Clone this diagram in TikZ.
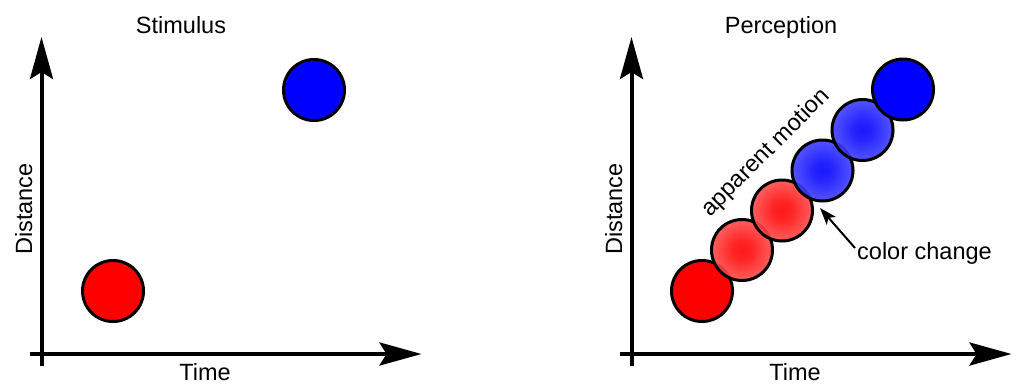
\documentclass[tikz,border=0pt]{standalone}
\usepackage{fontspec}
\setmainfont{Liberation Sans}
\usetikzlibrary{arrows.meta}
\pgfdeclareradialshading{redblurshade}{\pgfpoint{0bp}{0bp}}{%
  color(0bp)=(red); color(8bp)=(red!95!white); color(30bp)=(red!62!white); color(50bp)=(red!38!white)}
\pgfdeclareradialshading{blueblurshade}{\pgfpoint{0bp}{0bp}}{%
  color(0bp)=(blue); color(8bp)=(blue!95!white); color(30bp)=(blue!68!white); color(50bp)=(blue!45!white)}
\begin{document}
\begin{tikzpicture}[x=1pt,y=1pt,
  axis/.style={line width=4pt,-{Stealth[length=42pt,width=23pt,inset=7pt]}},
  lbl/.style={font=\fontsize{23.5}{27}\selectfont,inner sep=0pt},
  dot/.style={circle,draw=black,line width=3pt,minimum size=61pt,inner sep=0pt},
  reddot/.style={dot,fill=red},
  bluedot/.style={dot,fill=blue},
  redblur/.style={dot,shading=redblurshade,fill opacity=0.9},
  blueblur/.style={dot,shading=blueblurshade,fill opacity=0.9},
  pointer/.style={line width=2pt,-{Stealth[length=17pt,width=12pt,inset=4pt]}}
]
\useasboundingbox (0,0) rectangle (1016,-384);
% ---------- left panel ----------
\coordinate (Ly0) at (41.5,-366);
\coordinate (Lytip) at (41.5,-37);
\coordinate (Lx0) at (30,-354);
\coordinate (Lxtip) at (421.5,-354);
\draw[axis] (Ly0) -- (Lytip);
\draw[axis] (Lx0) -- (Lxtip);
\node[lbl,anchor=base] (Ltitle) at (181,-33) {Stimulus};
\node[lbl,anchor=base] (Ltime) at (205,-380) {Time};
\node[lbl,anchor=base,rotate=90] (Ldist) at (32,-209) {Distance};
\node[reddot] (Lred) at (113,-291) {};
\node[bluedot] (Lblue) at (314,-90) {};
% ---------- right panel ----------
\coordinate (Ry0) at (631.5,-366);
\coordinate (Rytip) at (631.5,-37);
\coordinate (Rx0) at (620,-354);
\coordinate (Rxtip) at (1011.5,-354);
\draw[axis] (Ry0) -- (Rytip);
\draw[axis] (Rx0) -- (Rxtip);
\node[lbl,anchor=base] (Rtitle) at (781,-33) {Perception};
\node[lbl,anchor=base] (Rtime) at (795,-380) {Time};
\node[lbl,anchor=base,rotate=90] (Rdist) at (622,-209) {Distance};
\node[reddot] (c1) at (702,-291) {};
\node[redblur] (c2) at (742,-250) {};
\node[redblur] (c3) at (782,-210.5) {};
\node[blueblur] (c4) at (822.5,-170.5) {};
\node[blueblur] (c5) at (862.5,-130) {};
\node[bluedot] (c6) at (903,-89.5) {};
\node[lbl,rotate=45] (motion) at (766,-153) {apparent motion};
\node[lbl,anchor=base west] (cc) at (857,-259) {color change};
\coordinate (cctail) at (855,-248);
\coordinate (cctip) at (820,-208);
\draw[pointer] (cctail) -- (cctip);
\end{tikzpicture}
\end{document}
